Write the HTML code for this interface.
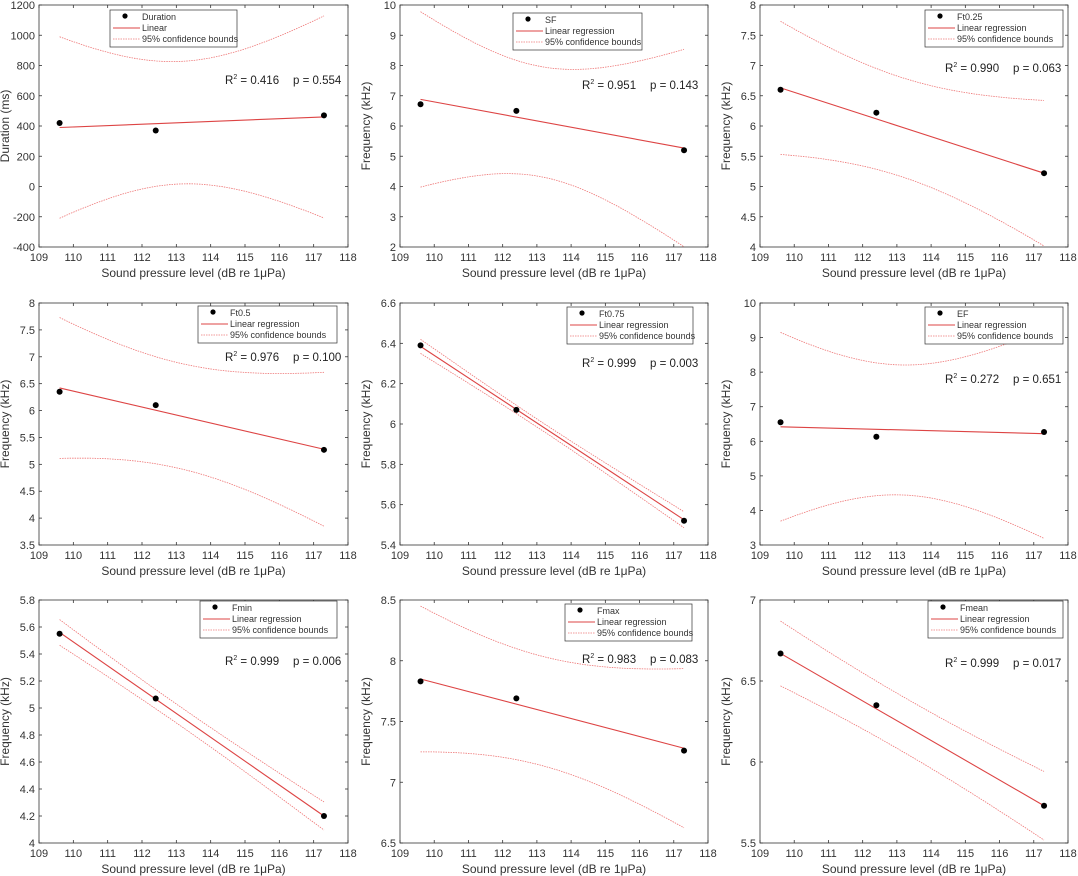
<!DOCTYPE html>
<html><head><meta charset="utf-8"><style>
html,body{margin:0;padding:0;background:#fff;}
svg{display:block;font-family:"Liberation Sans",Arial,sans-serif;}
</style></head><body>
<svg id="s" width="1078" height="876" xmlns="http://www.w3.org/2000/svg"></svg>
<script>
const P=[
{c:0,r:0,lab:"Duration (ms)",y0:-400,y1:1200,st:200,pts:[420,370,470],l:[390,460],h0:405,h1:600,leg:"Duration",leg2:"Linear",lx:110,ly:10,lw:127,rx:225,ry:80,R:"0.416",p:"0.554"},
{c:1,r:0,lab:"Frequency (kHz)",y0:2,y1:10,st:1,pts:[6.72,6.5,5.2],l:[6.88,5.27],h0:1.82,h1:2.9,leg:"SF",leg2:"Linear regression",lx:513,ly:13,lw:129,rx:582,ry:85,R:"0.951",p:"0.143"},
{c:2,r:0,lab:"Frequency (kHz)",y0:4,y1:8,st:0.5,pts:[6.6,6.22,5.22],l:[6.63,5.22],h0:0.82,h1:1.1,leg:"Ft0.25",leg2:"Linear regression",lx:925,ly:10,lw:138,rx:945,ry:68,R:"0.990",p:"0.063"},
{c:0,r:1,lab:"Frequency (kHz)",y0:3.5,y1:8,st:0.5,pts:[6.35,6.1,5.27],l:[6.42,5.28],h0:0.98,h1:1.31,leg:"Ft0.5",leg2:"Linear regression",lx:198,ly:306,lw:139,rx:225,ry:357,R:"0.976",p:"0.100"},
{c:1,r:1,lab:"Frequency (kHz)",y0:5.4,y1:6.6,st:0.2,pts:[6.39,6.07,5.52],l:[6.385,5.525],h0:0.02,h1:0.035,leg:"Ft0.75",leg2:"Linear regression",lx:567,ly:307,lw:126,rx:582,ry:363,R:"0.999",p:"0.003"},
{c:2,r:1,lab:"Frequency (kHz)",y0:3,y1:10,st:1,pts:[6.55,6.13,6.27],l:[6.42,6.22],h0:1.88,h1:2.73,leg:"EF",leg2:"Linear regression",lx:925,ly:307,lw:138,rx:945,ry:379,R:"0.272",p:"0.651"},
{c:0,r:2,lab:"Frequency (kHz)",y0:4,y1:5.8,st:0.2,pts:[5.55,5.07,4.2],l:[5.56,4.2],h0:0.07,h1:0.095,leg:"Fmin",leg2:"Linear regression",lx:200,ly:601,lw:137,rx:225,ry:661,R:"0.999",p:"0.006"},
{c:1,r:2,lab:"Frequency (kHz)",y0:6.5,y1:8.5,st:0.5,pts:[7.83,7.69,7.26],l:[7.85,7.28],h0:0.45,h1:0.6,leg:"Fmax",leg2:"Linear regression",lx:565,ly:604,lw:127,rx:582,ry:659,R:"0.983",p:"0.083"},
{c:2,r:2,lab:"Frequency (kHz)",y0:5.5,y1:7,st:0.5,pts:[6.67,6.35,5.73],l:[6.67,5.73],h0:0.17,h1:0.2,leg:"Fmean",leg2:"Linear regression",lx:928,ly:601,lw:135,rx:945,ry:663,R:"0.999",p:"0.017"}
];
const rows=[[5,247],[303,545],[600,843]];
const cols=[[39,348],[400,708],[760,1068]];
const xs=[109.6,112.4,117.3];
let o='';
function fmt(v){return (Math.round(v*1000)/1000).toString();}
for(const d of P){
 const [L,R]=cols[d.c],[T,B]=rows[d.r];
 const X=x=>L+(x-109)/9*(R-L), Y=y=>B-(y-d.y0)/(d.y1-d.y0)*(B-T);
 o+=`<rect x="${L}" y="${T}" width="${R-L}" height="${B-T}" fill="#fff" stroke="#333" stroke-width="0.8"/>`;
 for(let x=109;x<=118;x++){const px=X(x);o+=`<line x1="${px}" y1="${B}" x2="${px}" y2="${B-3}" stroke="#333" stroke-width="0.8"/><line x1="${px}" y1="${T}" x2="${px}" y2="${T+3}" stroke="#333" stroke-width="0.8"/><text x="${px}" y="${B+14}" font-size="11" text-anchor="middle" fill="#333">${x}</text>`;}
 const n=Math.round((d.y1-d.y0)/d.st);
 for(let i=0;i<=n;i++){const v=d.y0+i*d.st,py=Y(v);o+=`<line x1="${L}" y1="${py}" x2="${L+3}" y2="${py}" stroke="#333" stroke-width="0.8"/><line x1="${R}" y1="${py}" x2="${R-3}" y2="${py}" stroke="#333" stroke-width="0.8"/><text x="${L-4}" y="${py+4}" font-size="11" text-anchor="end" fill="#333">${fmt(v)}</text>`;}
 o+=`<text x="${(L+R)/2}" y="${B+30}" font-size="12" text-anchor="middle" fill="#333">Sound pressure level (dB re 1μPa)</text>`;
 o+=`<text transform="translate(${L-30},${(T+B)/2}) rotate(-90)" font-size="12" text-anchor="middle" fill="#333">${d.lab}</text>`;
 const m=(d.l[1]-d.l[0])/(117.3-109.6),f=x=>d.l[0]+m*(x-109.6),k=(d.h1*d.h1-d.h0*d.h0)/(3.5*3.5);
 let up=[],lo=[];
 for(let i=0;i<=60;i++){const x=109.6+i*(7.7/60),h=Math.sqrt(d.h0*d.h0+k*(x-113.1)**2);up.push(X(x).toFixed(1)+','+Y(f(x)+h).toFixed(1));lo.push(X(x).toFixed(1)+','+Y(f(x)-h).toFixed(1));}
 o+=`<polyline points="${up.join(' ')}" fill="none" stroke="#e77" stroke-width="0.8" stroke-dasharray="1.5,1"/><polyline points="${lo.join(' ')}" fill="none" stroke="#e77" stroke-width="0.8" stroke-dasharray="1.5,1"/>`;
 o+=`<line x1="${X(109.6)}" y1="${Y(d.l[0])}" x2="${X(117.3)}" y2="${Y(d.l[1])}" stroke="#d44" stroke-width="1.1"/>`;
 d.pts.forEach((v,i)=>{o+=`<circle cx="${X(xs[i])}" cy="${Y(v)}" r="3" fill="#000"/>`;});
 const lx=d.lx,ly=d.ly;
 o+=`<rect x="${lx}" y="${ly}" width="${d.lw}" height="37" fill="#fff" stroke="#333" stroke-width="0.7"/>`;
 o+=`<circle cx="${lx+15}" cy="${ly+6}" r="2.6" fill="#000"/><text x="${lx+32}" y="${ly+10}" font-size="9" fill="#333">${d.leg}</text>`;
 o+=`<line x1="${lx+3}" y1="${ly+18}" x2="${lx+30}" y2="${ly+18}" stroke="#d44" stroke-width="1"/><text x="${lx+32}" y="${ly+21}" font-size="9" fill="#333">${d.leg2}</text>`;
 o+=`<line x1="${lx+3}" y1="${ly+29}" x2="${lx+30}" y2="${ly+29}" stroke="#e77" stroke-width="0.8" stroke-dasharray="1.5,1"/><text x="${lx+32}" y="${ly+32}" font-size="9" fill="#333">95% confidence bounds</text>`;
 o+=`<text x="${d.rx}" y="${d.ry+4}" font-size="11.5" fill="#222">R<tspan font-size="7" dy="-5">2</tspan><tspan dy="5"> = ${d.R}</tspan></text><text x="${d.rx+68}" y="${d.ry+4}" font-size="11.5" fill="#222">p = ${d.p}</text>`;
}
document.getElementById('s').innerHTML=o;
</script>
</body></html>
